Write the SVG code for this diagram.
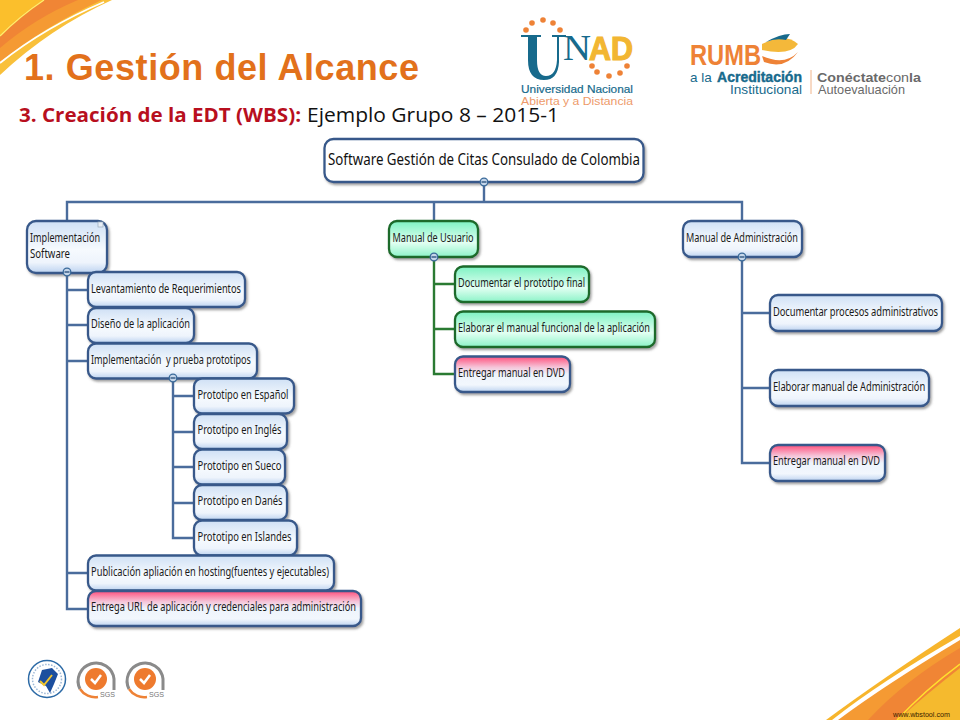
<svg xmlns="http://www.w3.org/2000/svg" width="960" height="720" viewBox="0 0 960 720">
<style>
.t{font-family:"Noto Sans","Liberation Sans",sans-serif;font-size:12.5px;fill:#1a1a1a}
.n{stroke-width:2.3;filter:url(#sh)}
.b{fill:url(#gb);stroke:#37598a}
.g{fill:url(#gg);stroke:#1c6b2c}
.p{fill:url(#gp);stroke:#37598a}
.w{fill:#fff;stroke:#37598a}
.c{fill:none;stroke:#4a6c9c;stroke-width:2.4}
.cg{fill:none;stroke:#2a7a32;stroke-width:2.4}
.k{fill:#c5d6ea;stroke:#3a6a9a;stroke-width:1.3}
.m{stroke:#2f5580;stroke-width:1.4}
.o{fill:#ee8236}
.s{font-family:"Liberation Sans",sans-serif}
</style>
<defs>
<linearGradient id="gb" x1="0" y1="0" x2="0" y2="1"><stop offset="0" stop-color="#cfe0f5"/><stop offset=".55" stop-color="#f6fafe"/><stop offset=".8" stop-color="#eef4fc"/><stop offset="1" stop-color="#bdd3f0"/></linearGradient>
<linearGradient id="gg" x1="0" y1="0" x2="0" y2="1"><stop offset="0" stop-color="#7df2c2"/><stop offset=".6" stop-color="#e2fff2"/><stop offset="1" stop-color="#8cf3c8"/></linearGradient>
<linearGradient id="gp" x1="0" y1="0" x2="0" y2="1"><stop offset="0" stop-color="#ff4f7c"/><stop offset=".3" stop-color="#f5c4d8"/><stop offset=".5" stop-color="#eef4fc"/><stop offset=".8" stop-color="#f2f7fd"/><stop offset="1" stop-color="#bdd3f0"/></linearGradient>
<filter id="sh" x="-10%" y="-20%" width="120%" height="150%"><feDropShadow dx="1.5" dy="2" stdDeviation="1.2" flood-color="#666" flood-opacity=".6"/></filter>
</defs>

<!-- corner swooshes -->
<path d="M0 0H112Q50 28 0 75Z" fill="#f9c03a"/>
<path d="M0 0H102Q45 26 0 62Z" fill="#f59a33"/>
<path d="M0 35Q20 15 43 0H78Q35 18 0 48Z" fill="#f08535"/>
<path d="M0 0H43Q20 15 0 35Z" fill="#fbbf2c"/>
<path d="M0 36Q20 16 44 0" fill="none" stroke="#fff06a" stroke-width="1.3"/>
<path d="M0 63Q45 27 104 2" fill="none" stroke="#fff" stroke-width="1.8"/>
<path d="M960 628Q880 680 826 720H960Z" fill="#f7b52c"/>
<path d="M960 636Q880 682 832 720H960Z" fill="#fff"/>
<path d="M960 640Q885 685 838 720H960Z" fill="#f59a33"/>
<path d="M960 648Q905 680 868 720H960Z" fill="#f08535"/>
<path d="M960 668Q925 695 898 720H960Z" fill="#f5ba2e"/>
<path d="M960 664Q925 690 897 720" fill="none" stroke="#ffe02e" stroke-width="1.5"/>
<text class="s" x="893" y="717" font-size="8" fill="#3a1f00" textLength="57" lengthAdjust="spacingAndGlyphs">www.wbstool.com</text>

<!-- title -->
<text x="24" y="80" font-family="Liberation Sans,Arial,sans-serif" font-weight="700" font-size="36" fill="#e2711b" textLength="395" lengthAdjust="spacing">1. Gestión del Alcance</text>
<text x="19" y="122" font-family="Open Sans,Liberation Sans,sans-serif" font-size="20" font-weight="700" fill="#b80f1e" textLength="282" lengthAdjust="spacingAndGlyphs">3. Creación de la EDT (WBS):</text>
<text x="307" y="122" font-family="Open Sans,Liberation Sans,sans-serif" font-size="20" fill="#111" textLength="252" lengthAdjust="spacingAndGlyphs">Ejemplo Grupo 8 – 2015-1</text>

<!-- UNAD logo -->
<g id="logo-unad">
<g class="o"><circle cx="526" cy="30" r="2.8"/><circle cx="532" cy="23" r="2.8"/><circle cx="543" cy="20" r="2.8"/><circle cx="553" cy="23" r="2.8"/><circle cx="560" cy="30" r="2.8"/></g>
<path d="M521 35H541V37H537V60Q537 76 546 76Q556 76 557 60V37H552V35H566V37H559V62Q558 80 544 80Q528 80 528 60V37H521Z" fill="#176a8c"/>
<text x="563" y="60" font-family="Liberation Serif,serif" font-size="36" fill="#176a8c" textLength="28" lengthAdjust="spacingAndGlyphs">N</text>
<text class="s" x="589" y="60" font-weight="700" font-size="33" fill="#f2b632" stroke="#f2b632" stroke-width="1.2" textLength="44" lengthAdjust="spacingAndGlyphs">AD</text>
<g class="o"><circle cx="592" cy="66" r="2.8"/><circle cx="597" cy="72" r="2.8"/><circle cx="609" cy="76" r="2.8"/><circle cx="620" cy="73" r="2.8"/><circle cx="627" cy="66" r="2.8"/></g>
<text class="s" x="521" y="93" font-size="11.5" fill="#176a8c" stroke="#176a8c" stroke-width=".2" textLength="112" lengthAdjust="spacingAndGlyphs">Universidad Nacional</text>
<text class="s" x="521" y="105" font-size="11.5" fill="#ee9a6a" textLength="112" lengthAdjust="spacingAndGlyphs">Abierta y a Distancia</text>
</g>

<!-- Rumbo logo -->
<g id="logo-rumbo">
<text class="s" x="690" y="65" font-weight="700" font-size="30" fill="#ee8236" textLength="71" lengthAdjust="spacingAndGlyphs">RUMB</text>
<path d="M762 44Q785 32 798 44Q790 56 762 50Z" fill="#f4b83a"/>
<path d="M762 56Q785 66 798 52Q785 70 764 62Z" fill="#ee8236"/>
<path d="M766 42Q780 34 790 34L786 40Q775 38 766 42Z" fill="#176a8c"/>
<text class="s" x="690" y="82" font-size="13.5" fill="#176a8c">a la</text>
<text class="s" x="717" y="82" font-weight="700" font-size="14" fill="#176a8c" stroke="#176a8c" stroke-width=".4" textLength="85" lengthAdjust="spacingAndGlyphs">Acreditación</text>
<text class="s" x="730" y="94" font-size="13.5" fill="#176a8c" textLength="72" lengthAdjust="spacingAndGlyphs">Institucional</text>
<path d="M811 70V94" stroke="#f0b48a" stroke-width="1"/>
<text class="s" x="817" y="82" font-size="13.5" fill="#6a6a6a" textLength="104" lengthAdjust="spacingAndGlyphs"><tspan font-weight="700">Conéctate</tspan>con<tspan font-weight="700">la</tspan></text>
<text class="s" x="818" y="94" font-size="13.5" fill="#6a6a6a" textLength="87" lengthAdjust="spacingAndGlyphs">Autoevaluación</text>
</g>

<!-- bottom logos -->
<g id="logo-escudo">
<circle cx="47" cy="679" r="18.5" fill="#fff" stroke="#2c6aa6" stroke-width="1.5"/>
<circle cx="47" cy="679" r="14.5" fill="none" stroke="#9db8d6" stroke-width="1.5" stroke-dasharray="1.5 1.5"/>
<path d="M42 670L52 668L58 674L54 684L50 693L46 686L38 682Z" fill="#1d4f9e"/>
<path d="M40 681L44 685L52 675" fill="none" stroke="#f2c62e" stroke-width="2"/>
</g>
<g id="logo-sgs1">
<path d="M80 689A18 18 0 1 1 114 679V690" fill="none" stroke="#8a8a8a" stroke-width="3"/>
<path d="M80 689A18 18 0 0 0 98 697" fill="none" stroke="#ee8236" stroke-width="2.5"/>
<circle cx="96" cy="679" r="11" fill="#ee7a2e"/>
<path d="M91 679L95 683L101 675" fill="none" stroke="#fff" stroke-width="2.5"/>
<text class="s" x="100" y="697" font-size="7.5" fill="#777" textLength="15" lengthAdjust="spacingAndGlyphs">SGS</text>
</g>
<g id="logo-sgs2">
<path d="M129 689A18 18 0 1 1 163 679V690" fill="none" stroke="#8a8a8a" stroke-width="3"/>
<path d="M129 689A18 18 0 0 0 147 697" fill="none" stroke="#ee8236" stroke-width="2.500"/>
<circle cx="145" cy="679" r="11" fill="#ee7a2e"/>
<path d="M140 679L144 683L150 675" fill="none" stroke="#fff" stroke-width="2.5"/>
<text class="s" x="149" y="697" font-size="7.5" fill="#777" textLength="15" lengthAdjust="spacingAndGlyphs">SGS</text>
</g>

<!-- connectors -->
<g id="connectors">
<path class="c" d="M484 182V202M67 221V202H742V221M434 202V221"/>
<path class="c" d="M67 273V609H88M67 290H88M67 325H88M67 361H88M67 573H88"/>
<path class="c" d="M173 379V538H194M173 396H194M173 432H194M173 467H194M173 503H194"/>
<path class="cg" d="M434 257V374H455M434 284H455M434 329H455"/>
<path class="c" d="M742 257V463H770M742 313H770M742 388H770"/>
</g>

<!-- nodes -->
<g id="n-root"><rect class="n w" x="324.500" y="139" width="319" height="43" rx="9"/><text x="328" y="165" font-family="Noto Sans,sans-serif" font-size="16.500" fill="#111" textLength="312" lengthAdjust="spacingAndGlyphs">Software Gestión de Citas Consulado de Colombia</text></g>
<g id="n-impl"><rect class="n b" x="27" y="221" width="80" height="52" rx="9"/><text class="t" x="30" y="242" textLength="70" lengthAdjust="spacingAndGlyphs">Implementación</text><text class="t" x="30" y="258" textLength="40" lengthAdjust="spacingAndGlyphs">Software</text><rect x="98" y="222" width="5" height="5" fill="#e8eef6" stroke="#9ab" stroke-width=".7"/></g>
<g id="n-manual-usuario"><rect class="n g" x="389" y="221" width="89" height="36" rx="8"/><text class="t" x="392.500" y="242" textLength="81" lengthAdjust="spacingAndGlyphs">Manual de Usuario</text></g>
<g id="n-manual-admin"><rect class="n b" x="683" y="221" width="119" height="36" rx="8"/><text class="t" x="686" y="242" textLength="112" lengthAdjust="spacingAndGlyphs">Manual de Administración</text></g>

<g id="n-levantamiento"><rect class="n b" x="88" y="272" width="157" height="35" rx="8"/><text class="t" x="91" y="293" textLength="150" lengthAdjust="spacingAndGlyphs">Levantamiento de Requerimientos</text></g>
<g id="n-diseno"><rect class="n b" x="88" y="308" width="106" height="35" rx="8"/><text class="t" x="91" y="328" textLength="99" lengthAdjust="spacingAndGlyphs">Diseño de la aplicación</text></g>
<g id="n-impl-prueba"><rect class="n b" x="88" y="343.500" width="169" height="35" rx="8"/><text class="t" x="91" y="364" textLength="160" lengthAdjust="spacingAndGlyphs" xml:space="preserve">Implementación  y prueba prototipos</text></g>
<g id="n-esp"><rect class="n b" x="194" y="378.500" width="100" height="35" rx="8"/><text class="t" x="197.500" y="399" textLength="91" lengthAdjust="spacingAndGlyphs">Prototipo en Español</text></g>
<g id="n-ing"><rect class="n b" x="194" y="414" width="93" height="35" rx="8"/><text class="t" x="197.500" y="434" textLength="84" lengthAdjust="spacingAndGlyphs">Prototipo en Inglés</text></g>
<g id="n-sue"><rect class="n b" x="194" y="449.500" width="91" height="35" rx="8"/><text class="t" x="197.500" y="470" textLength="84" lengthAdjust="spacingAndGlyphs">Prototipo en Sueco</text></g>
<g id="n-dan"><rect class="n b" x="194" y="485" width="93" height="35" rx="8"/><text class="t" x="197.500" y="505" textLength="85" lengthAdjust="spacingAndGlyphs">Prototipo en Danés</text></g>
<g id="n-isl"><rect class="n b" x="194" y="520.500" width="103" height="35" rx="8"/><text class="t" x="197.500" y="541" textLength="94" lengthAdjust="spacingAndGlyphs">Prototipo en Islandes</text></g>
<g id="n-publicacion"><rect class="n b" x="88" y="555.500" width="246" height="35" rx="8"/><text class="t" x="91" y="576" textLength="238" lengthAdjust="spacingAndGlyphs">Publicación apliación en hosting(fuentes y ejecutables)</text></g>
<g id="n-entrega-url"><rect class="n p" x="88" y="591" width="273" height="35" rx="8"/><text class="t" x="91" y="611" textLength="265" lengthAdjust="spacingAndGlyphs">Entrega URL de aplicación y credenciales para administración</text></g>

<g id="n-doc-proto"><rect class="n g" x="455" y="266.500" width="134" height="35.500" rx="8"/><text class="t" x="458" y="287" textLength="127" lengthAdjust="spacingAndGlyphs">Documentar el prototipo final</text></g>
<g id="n-elab-manual"><rect class="n g" x="455" y="311.500" width="200" height="35.500" rx="8"/><text class="t" x="458" y="332" textLength="192" lengthAdjust="spacingAndGlyphs">Elaborar el manual funcional de la aplicación</text></g>
<g id="n-dvd-1"><rect class="n p" x="455" y="356.500" width="115" height="35.500" rx="8"/><text class="t" x="458" y="377" textLength="107" lengthAdjust="spacingAndGlyphs">Entregar manual en DVD</text></g>

<g id="n-doc-admin"><rect class="n b" x="770" y="295" width="172" height="36" rx="8"/><text class="t" transform="translate(773 316) scale(.75 1)" x="0" y="0" textLength="220" lengthAdjust="spacing">Documentar procesos administrativos</text></g>
<g id="n-elab-admin"><rect class="n b" x="770" y="370" width="159" height="36" rx="8"/><text class="t" transform="translate(773 391) scale(.75 1)" x="0" y="0" textLength="203" lengthAdjust="spacing">Elaborar manual de Administración</text></g>
<g id="n-dvd-2"><rect class="n p" x="770" y="445" width="115" height="36" rx="8"/><text class="t" x="773" y="465" textLength="107" lengthAdjust="spacingAndGlyphs">Entregar manual en DVD</text></g>

<!-- collapse handles -->
<g id="handles">
<circle class="k" cx="484" cy="182" r="3.800"/><path class="m" d="M481.500 182H486.500"/>
<circle class="k" cx="67" cy="272" r="3.800"/><path class="m" d="M64.500 272H69.500"/>
<circle class="k" cx="434" cy="257" r="3.800"/><path class="m" d="M431.500 257H436.500"/>
<circle class="k" cx="742" cy="257" r="3.800"/><path class="m" d="M739.500 257H744.500"/>
<circle class="k" cx="173" cy="378" r="3.800"/><path class="m" d="M170.500 378H175.500"/>
</g>
</svg>
